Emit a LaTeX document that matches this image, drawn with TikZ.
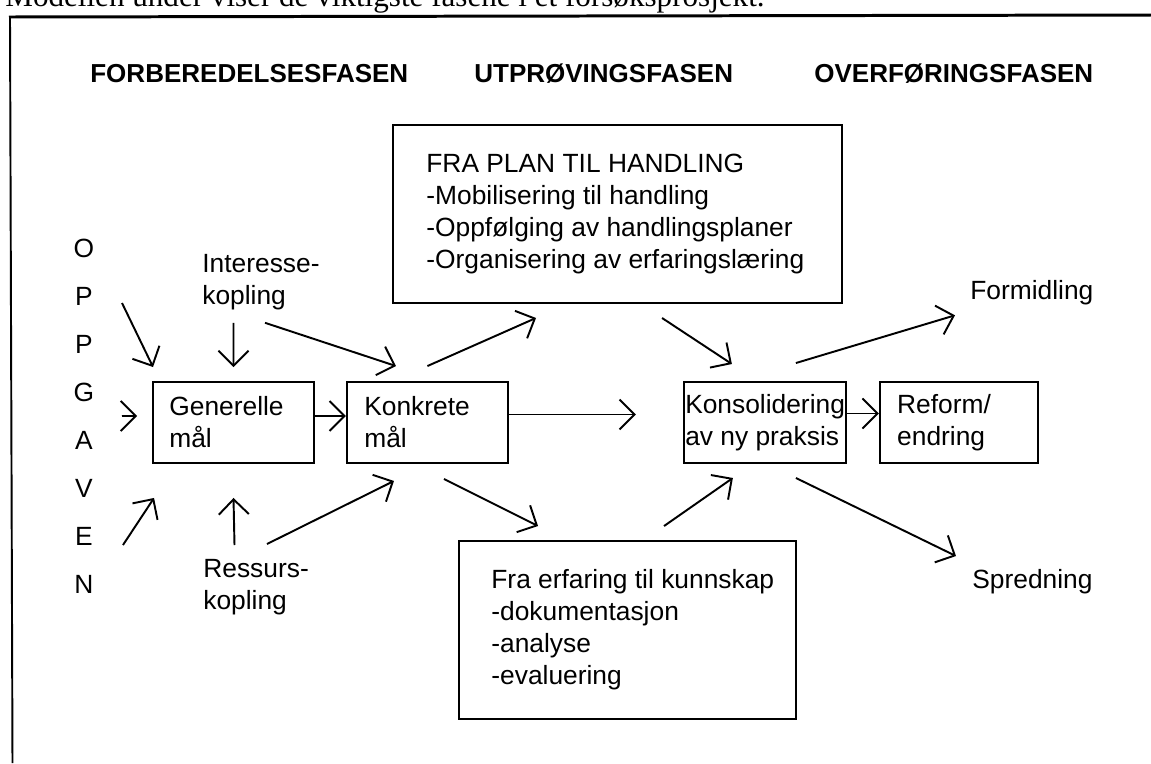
\documentclass[tikz,border=0pt]{standalone}
\usepackage{fontspec}
\setmainfont{Liberation Sans}
\newfontfamily\serifcut{Liberation Serif}
\usetikzlibrary{positioning,arrows.meta}
\begin{document}
\begin{tikzpicture}
    \tikzstyle{box} = [rectangle, draw=black, line width=1.1pt, inner sep=0pt, minimum height=1.62cm]
    \tikzstyle{txt} = [inner sep=0pt, align=left, font=\fontsize{15pt}{18.2pt}\selectfont]
    \tikzstyle{phase} = [inner sep=0pt, anchor=base west, font=\fontsize{14.8pt}{18pt}\selectfont\bfseries]
    \tikzstyle{arr} = [line width=1.1pt, -{Straight Barb[length=0.3cm,width=0.6cm]}]

    \useasboundingbox (0,0) rectangle (23.02,-15.26);
    \clip (0,0) rectangle (23.02,-15.26);

    % cut-off line of the scanned page, then the frame
    \node [inner sep=0pt, anchor=base west, font=\serifcut\fontsize{17.7pt}{20pt}\selectfont] (intro) at (0.1,-0.12) {Modellen under viser de viktigste fasene i et forsøksprosjekt.};
    \draw [line width=1.7pt] (0.18,-0.34) -- (23.02,-0.3);
    \draw [line width=1.1pt] (0.2,-0.34) -- (0.25,-15.26);

    \node [phase] (forb) at (1.8,-1.64) {FORBEREDELSESFASEN};
    \node [phase] (utpr) at (9.48,-1.64) {UTPRØVINGSFASEN};
    \node [phase] (overf) at (16.28,-1.64) {OVERFØRINGSFASEN};

    \foreach \c [count=\i from 0] in {O,P,P,G,A,V,E,N}
        \node [txt, anchor=base] (l\i) at (1.68,-5.14-0.96*\i) {\c};

    \node [box, minimum width=3.22cm] (gen) at (4.67,-8.45) {};
    \node [box, minimum width=3.22cm, right=0.62cm of gen] (konk) {};
    \node [box, minimum width=3.24cm, right=3.48cm of konk] (kons) {};
    \node [box, minimum width=3.16cm, right=0.64cm of kons] (ref) {};
    \node [box, minimum width=8.98cm, minimum height=3.56cm] (plan) at (12.35,-4.28) {};
    \node [box, minimum width=6.74cm, minimum height=3.56cm] (erf) at (12.55,-12.6) {};

    \node [txt, anchor=west] at ([xshift=0.34cm]gen.west) {Generelle\\mål};
    \node [txt, anchor=west] at ([xshift=0.36cm]konk.west) {Konkrete\\mål};
    \node [txt, anchor=west] at ([xshift=0.04cm]kons.west) {Konsolidering\\av ny praksis};
    \node [txt, anchor=west] at ([xshift=0.36cm]ref.west) {Reform/\\endring};
    \node [txt, anchor=west] at ([xshift=0.68cm]plan.west) {FRA PLAN TIL HANDLING\\-Mobilisering til handling\\-Oppfølging av handlingsplaner\\-Organisering av erfaringslæring};
    \node [txt, anchor=west] at ([xshift=0.66cm]erf.west) {Fra erfaring til kunnskap\\-dokumentasjon\\-analyse\\-evaluering};

    \node [txt, anchor=north west] (intr) at (4.04,-5.08) {Interesse-\\kopling};
    \node [txt, anchor=north west] (res) at (4.06,-11.18) {Ressurs-\\kopling};
    \node [txt, anchor=base west] (form) at (19.4,-5.98) {Formidling};
    \node [txt, anchor=base west] (spr) at (19.44,-11.76) {Spredning};

    % into the general goals
    \draw [arr] ([shift={(0.76,0.04)}]l1.base) -- ([shift={(0.02,0.28)}]gen.north west);
    \draw [arr] ([shift={(0.76,-0.3)}]l3.base) -- ([shift={(-0.3,0.13)}]gen.west);
    \draw [arr] ([shift={(0.78,0)}]l6.base) -- ([shift={(0.04,-0.68)}]gen.south west);
    \draw [arr] ([shift={(0.63,-0.25)}]intr.south west) -- ([shift={(0,0.28)}]gen.north);
    \draw [arr] ([shift={(0.63,0.28)}]res.north west) -- ([shift={(0,-0.68)}]gen.south);

    \draw [arr] ([shift={(1.26,-0.25)}]intr.south west) -- ([shift={(1.0,0.3)}]konk.north west);
    \draw [arr] ([shift={(1.28,0.3)}]res.north west) -- ([shift={(0.96,-0.34)}]konk.south west);
    \draw [arr] ([yshift=0.13cm]gen.east) -- ([yshift=0.13cm]konk.west);

    \coordinate [right=2.54cm of konk.east, yshift=0.16cm] (gap);
    \draw [arr] ([yshift=0.16cm]konk.east) -- (gap);
    \draw [arr] ([shift={(0,0.3)}]konk.north) -- ([shift={(2.88,-0.28)}]plan.south west);
    \draw [arr] ([shift={(5.4,-0.28)}]plan.south west) -- ([shift={(0.98,0.34)}]kons.north west);
    \draw [arr] ([shift={(0.33,-0.3)}]konk.south) -- ([shift={(1.6,0.28)}]erf.north west);
    \draw [arr] ([shift={(4.12,0.28)}]erf.north west) -- ([shift={(1.0,-0.28)}]kons.south west);

    \draw [arr] ([yshift=0.18cm]kons.east) -- ([yshift=0.18cm]ref.west);
    \draw [arr] ([shift={(2.26,0.36)}]kons.north west) -- ([shift={(-0.3,-0.21)}]form.south west);
    \draw [arr] ([shift={(2.26,-0.28)}]kons.south west) -- ([shift={(-0.32,0.25)}]spr.north west);

  \end{tikzpicture}
\end{document}
